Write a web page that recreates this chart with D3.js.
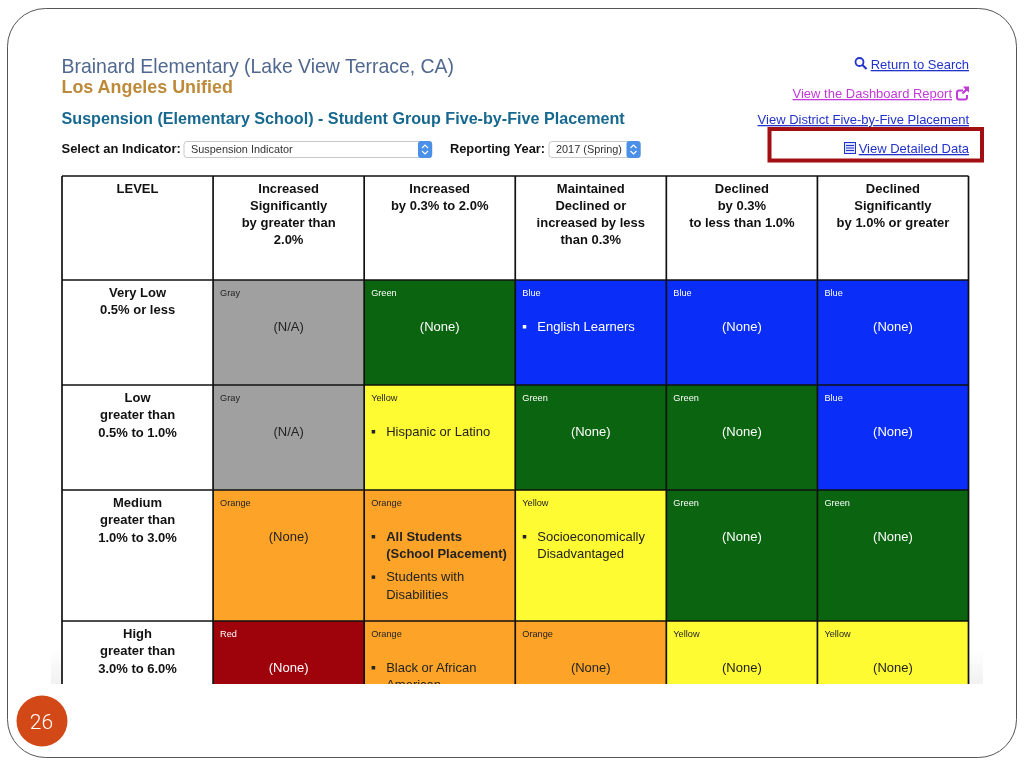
<!DOCTYPE html>
<html>
<head>
<meta charset="utf-8">
<script src="https://cdn.jsdelivr.net/npm/d3@7"></script>
<style>
  html, body { margin: 0; padding: 0; background: #fff; }
  svg { display: block; filter: blur(0.35px); }
  text { font-family: "Liberation Sans", Arial, sans-serif; }
</style>
</head>
<body>
<div id="chart"></div>
<script>
// table content
const columns = ["LEVEL", "inc-sig", "inc", "maintained", "dec", "dec-sig"];
const columnHeaders = [
  ["LEVEL"],
  ["Increased", "Significantly", "by greater than", "2.0%"],
  ["Increased", "by 0.3% to 2.0%"],
  ["Maintained", "Declined or", "increased by less", "than 0.3%"],
  ["Declined", "by 0.3%", "to less than 1.0%"],
  ["Declined", "Significantly", "by 1.0% or greater"]
];
const rows = ["header", "very-low", "low", "medium", "high"];
const levelLabels = [
  ["Very Low", "0.5% or less"],
  ["Low", "greater than", "0.5% to 1.0%"],
  ["Medium", "greater than", "1.0% to 3.0%"],
  ["High", "greater than", "3.0% to 6.0%"]
];
const cellColors = [
  ["Gray", "Green", "Blue", "Blue", "Blue"],
  ["Gray", "Yellow", "Green", "Green", "Blue"],
  ["Orange", "Orange", "Yellow", "Green", "Green"],
  ["Red", "Orange", "Orange", "Yellow", "Yellow"]
];
const cellPlain = [
  ["(N/A)", "(None)", null, "(None)", "(None)"],
  ["(N/A)", null, "(None)", "(None)", "(None)"],
  ["(None)", null, null, "(None)", "(None)"],
  ["(None)", null, "(None)", "(None)", "(None)"]
];
const cellLists = {
  "0-2": [{lines: ["English Learners"]}],
  "1-1": [{lines: ["Hispanic or Latino"]}],
  "2-1": [{lines: ["All Students", "(School Placement)"], bold: true}, {lines: ["Students with", "Disabilities"]}],
  "2-2": [{lines: ["Socioeconomically", "Disadvantaged"]}],
  "3-1": [{lines: ["Black or African", "American"]}]
};
const colorNames = ["Gray", "Green", "Blue", "Yellow", "Orange", "Red"];
const colorFills = ["#a0a0a0", "#0b640f", "#0a2df8", "#fffb33", "#fda428", "#9e030b"];
const colorInk = ["#222", "#fff", "#fff", "#222", "#222", "#fff"];

const width = 1024, height = 768;
const svg = d3.select("#chart").append("svg").attr("width", width).attr("height", height);
const defs = svg.append("defs");

// scales for the grid
const x = d3.scaleBand().domain(columns).range([62, 968.5]);
const y = d3.scaleOrdinal().domain(rows).range([176, 280, 385, 490, 621]);
const rowHeight = d3.scaleOrdinal().domain(rows).range([104, 105, 105, 131, 131]);
const fill = d3.scaleOrdinal().domain(colorNames).range(colorFills);
const ink = d3.scaleOrdinal().domain(colorNames).range(colorInk);

// slide frame
svg.append("rect")
  .attr("x", 7.5).attr("y", 8.5).attr("width", 1009).attr("height", 749)
  .attr("rx", 38).attr("ry", 38)
  .attr("fill", "#fff").attr("stroke", "#555").attr("stroke-width", 1);

// soft edge behind the screenshot
const fade = defs.append("linearGradient").attr("id", "fade").attr("x1", 0).attr("x2", 0).attr("y1", 0).attr("y2", 1);
fade.append("stop").attr("offset", 0).attr("stop-color", "#fff");
fade.append("stop").attr("offset", 1).attr("stop-color", "#f1f1f1");
svg.append("rect").attr("x", 51).attr("y", 650).attr("width", 932).attr("height", 34).attr("fill", "url(#fade)");

function label(sel, txt, px, py, size, color, opts = {}) {
  return sel.append("text")
    .attr("x", px).attr("y", py)
    .attr("font-size", size)
    .attr("fill", color)
    .attr("font-weight", opts.bold ? "bold" : "normal")
    .attr("text-anchor", opts.anchor || "start")
    .attr("text-decoration", opts.underline ? "underline" : null)
    .text(txt);
}

// page heading
label(svg, "Brainard Elementary (Lake View Terrace, CA)", 61.5, 72.5, 19.45, "#50688f");
label(svg, "Los Angeles Unified", 61.5, 92.5, 17.9, "#bd8a3a", {bold: true});
label(svg, "Suspension (Elementary School) - Student Group Five-by-Five Placement", 61.5, 124, 16.15, "#17688f", {bold: true});
label(svg, "Select an Indicator:", 61.5, 153, 12.95, "#111", {bold: true});
label(svg, "Reporting Year:", 450, 153, 12.8, "#111", {bold: true});

// drop downs
function dropdown(x0, x1, txt) {
  svg.append("rect").attr("x", x0).attr("y", 141.5).attr("width", x1 - x0).attr("height", 16).attr("rx", 3)
    .attr("fill", "#fff").attr("stroke", "#c9c9c9");
  svg.append("rect").attr("x", x1 - 14).attr("y", 141).attr("width", 14).attr("height", 17).attr("rx", 3).attr("fill", "#4a8fe8");
  svg.append("path").attr("d", `M${x1 - 10} 148l3 -3l3 3M${x1 - 10} 151l3 3l3 -3`)
    .attr("fill", "none").attr("stroke", "#fff").attr("stroke-width", 1.1);
  label(svg, txt, x0 + 7, 153, 10.9, "#333");
}
dropdown(184, 432, "Suspension Indicator");
dropdown(549, 640.5, "2017 (Spring)");

// links on the right
label(svg, "Return to Search", 969, 69, 13, "#2233cc", {anchor: "end", underline: true});
label(svg, "View the Dashboard Report", 952, 98, 13, "#c23ad8", {anchor: "end", underline: true});
label(svg, "View District Five-by-Five Placement", 969, 124, 13, "#2233cc", {anchor: "end", underline: true});
label(svg, "View Detailed Data", 969, 153, 13, "#2233cc", {anchor: "end", underline: true});

// link icons
svg.append("circle").attr("cx", 859.5).attr("cy", 62).attr("r", 4).attr("fill", "none").attr("stroke", "#2233cc").attr("stroke-width", 1.8);
svg.append("path").attr("d", "M862.5 65l4 4").attr("stroke", "#2233cc").attr("stroke-width", 2.2);
svg.append("path").attr("d", "M963 90.5h-4a2 2 0 0 0 -2 2v5a2 2 0 0 0 2 2h6a2 2 0 0 0 2 -2v-2.5")
  .attr("fill", "none").attr("stroke", "#c23ad8").attr("stroke-width", 2);
svg.append("path").attr("d", "M963 86.5h6v6l-2.2 -1.8l-3.6 3.6l-1.5 -1.5l3.5 -3.6z").attr("fill", "#c23ad8");
svg.append("rect").attr("x", 844.5).attr("y", 142.5).attr("width", 11).attr("height", 11).attr("fill", "#dfe3f8").attr("stroke", "#2233cc");
svg.append("path").attr("d", "M846 145.5h8M846 148h8M846 150.5h8").attr("stroke", "#2233cc").attr("stroke-width", 1);

// red highlight box
svg.append("rect").attr("x", 769.5).attr("y", 129).attr("width", 212.5).attr("height", 31.5)
  .attr("fill", "none").attr("stroke", "#a20f12").attr("stroke-width", 4);

// clip the table where the screenshot ends
defs.append("clipPath").attr("id", "shot").append("rect").attr("x", 51).attr("y", 170).attr("width", 932).attr("height", 514);
const table = svg.append("g").attr("clip-path", "url(#shot)");

const tableFont = 13;

// header row and level column
columns.forEach((c, i) => {
  table.append("rect").attr("x", x(c)).attr("y", y("header")).attr("width", x.bandwidth()).attr("height", rowHeight("header")).attr("fill", "#fff");
  columnHeaders[i].forEach((t, k) => {
    label(table, t, x(c) + x.bandwidth() / 2, y("header") + 16.5 + k * 17.3, tableFont, "#111", {bold: true, anchor: "middle"});
  });
});

levelLabels.forEach((lines, r) => {
  const row = rows[r + 1];
  table.append("rect").attr("x", x("LEVEL")).attr("y", y(row)).attr("width", x.bandwidth()).attr("height", rowHeight(row)).attr("fill", "#fff");
  lines.forEach((t, k) => {
    label(table, t, x("LEVEL") + x.bandwidth() / 2, y(row) + 17 + k * 17.3, tableFont, "#111", {bold: true, anchor: "middle"});
  });
});

// coloured cells
cellColors.forEach((rowColors, r) => {
  const row = rows[r + 1];
  rowColors.forEach((name, c) => {
    const col = columns[c + 1];
    const cx = x(col), cy = y(row);
    table.append("rect").attr("x", cx).attr("y", cy).attr("width", x.bandwidth()).attr("height", rowHeight(row)).attr("fill", fill(name));
    label(table, name, cx + 7, cy + 16, 9.2, ink(name));

    const plain = cellPlain[r][c];
    if (plain) {
      label(table, plain, cx + x.bandwidth() / 2, cy + 51, tableFont, ink(name), {anchor: "middle"});
    }

    const list = cellLists[r + "-" + c];
    if (list) {
      let ty = cy + 51;
      list.forEach(item => {
        table.append("rect").attr("x", cx + 7.5).attr("y", ty - 6).attr("width", 3.5).attr("height", 3.5).attr("fill", ink(name));
        item.lines.forEach(t => {
          label(table, t, cx + 22, ty, tableFont, ink(name), {bold: item.bold});
          ty += 17.3;
        });
        ty += 5.8;
      });
    }
  });
});

// grid lines
table.append("g").selectAll("line").data(columns.concat("end")).join("line")
  .attr("x1", d => d === "end" ? x.range()[1] : x(d))
  .attr("x2", d => d === "end" ? x.range()[1] : x(d))
  .attr("y1", y("header")).attr("y2", 700)
  .attr("stroke", "#111").attr("stroke-width", 1.7);
table.append("g").selectAll("line").data(rows).join("line")
  .attr("x1", x.range()[0]).attr("x2", x.range()[1])
  .attr("y1", d => y(d)).attr("y2", d => y(d))
  .attr("stroke", "#111").attr("stroke-width", 1.7);

// page number badge
svg.append("circle").attr("cx", 42).attr("cy", 721).attr("r", 25.5).attr("fill", "#d34817");
svg.append("text").attr("x", 41.5).attr("y", 728.5).attr("text-anchor", "middle")
  .attr("font-size", 21).attr("fill", "#fff").style("font-family", "Roboto, sans-serif").style("font-weight", 300).text("26");
</script>
</body>
</html>
